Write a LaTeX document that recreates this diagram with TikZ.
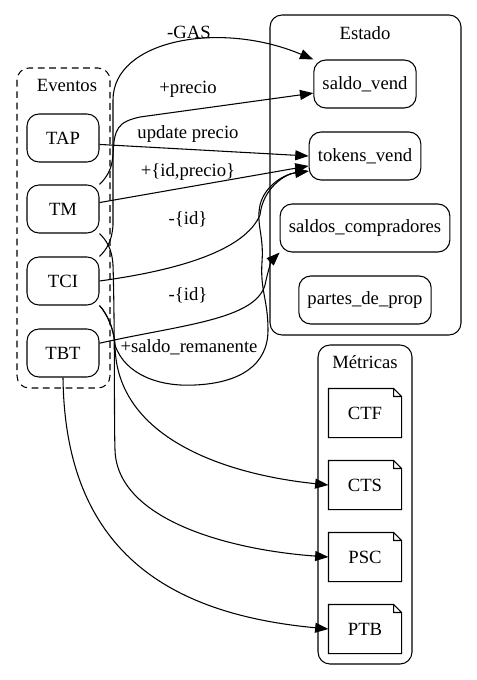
\documentclass[tikz,border=0pt]{standalone}
\usepackage{fontspec}
\setmainfont{Liberation Serif}
\usetikzlibrary{arrows.meta}

\begin{document}
\begin{tikzpicture}[x=0.75pt,y=-0.75pt,font=\fontsize{14}{16}\selectfont,line width=0.8pt,
  box/.style={draw,rounded corners=9pt,minimum width=54pt,minimum height=36pt,inner xsep=6.5pt},
  notebox/.style={minimum width=54pt,minimum height=36pt},
  grp/.style={draw,rounded corners=9pt},
  arr/.style={-{Triangle[length=10pt,width=7.5pt]}}]
  \useasboundingbox (0,0) rectangle (477,680);

  % clusters
  \draw[grp,dash pattern=on 5pt off 3.5pt] (17,68) rectangle (110,388);
  \draw[grp] (270,15) rectangle (461,335);
  \draw[grp] (318,345) rectangle (412,664);
  \node (evlbl) at (67,85) {Eventos};
  \node (stlbl) at (365,33) {Estado};
  \node (mtlbl) at (365,362) {Métricas};

  % events
  \node[box] (tap) at (63,138) {TAP};
  \node[box] (tm)  at (63,209) {TM};
  \node[box] (tci) at (63,281) {TCI};
  \node[box] (tbt) at (63,353) {TBT};

  % state
  \node[box] (saldovend)   at (365,84)  {saldo\_vend};
  \node[box] (tokensvend)  at (365,156) {tokens\_vend};
  \node[box] (saldoscomp)  at (365,228) {saldos\_compradores};
  \node[box] (partesprop)  at (365,300) {partes\_de\_prop};

  % metrics
  \node[notebox] (ctf) at (365,413) {CTF};
  \node[notebox] (cts) at (365,485) {CTS};
  \node[notebox] (psc) at (365,557) {PSC};
  \node[notebox] (ptb) at (365,629) {PTB};
  \foreach \n in {ctf,cts,psc,ptb}
    \draw (\n.south west) -- (\n.south east) -- ([yshift=-6pt]\n.north east)
      -- ([xshift=-6pt]\n.north east) -- (\n.north west) -- cycle
      ([xshift=-6pt]\n.north east) |- ([yshift=-6pt]\n.north east);

  % edges
  \draw[arr] (tci.north east) .. controls (106,250) and (112,242) .. (113,225) -- (113,100)
    .. controls (113,40) and (220,20) .. (saldovend.north west);
  \draw[arr] (tm.north east) .. controls (106,178) and (112,170) .. (113,155)
    .. controls (114,128) and (118,122) .. (140,117) -- (saldovend.190);
  \draw[arr] (tap.-10) -- (tokensvend.west);
  \draw[arr] (tm.10) -- (tokensvend.190);
  \draw[arr] (tci.east) .. controls (180,270) and (245,250) .. (260,215)
    .. controls (263,188) and (285,174) .. (tokensvend.195);
  \draw[arr] (tbt.15) .. controls (180,325) and (255,320) .. (265,285)
    .. controls (268,270) and (272,260) .. (saldoscomp.south west);
  \draw[arr] (tci.south east) .. controls (108,315) and (114,330) .. (115,345)
    .. controls (125,375) and (160,387) .. (195,385)
    .. controls (240,383) and (268,365) .. (268,330)
    .. controls (268,300) and (260,290) .. (262,262)
    .. controls (264,235) and (256,225) .. (260,205)
    .. controls (265,185) and (285,174) .. (tokensvend.195);
  \draw[arr] (tci.south east) .. controls (108,315) and (114,330) .. (115,345)
    .. controls (116,440) and (230,475) .. (cts.west);
  \draw[arr] (tm.south east) .. controls (106,240) and (112,248) .. (113,265)
    .. controls (115,330) and (114,420) .. (115,450)
    .. controls (117,520) and (230,550) .. (psc.west);
  \draw[arr] (tbt.south) .. controls (65,560) and (180,615) .. (ptb.west);

  % edge labels
  \node (lgas) at (189,32)  {-GAS};
  \node (lprc) at (188,89)  {+precio};
  \node (lupd) at (188,134) {update precio};
  \node (lidp) at (188,172) {+\{id,precio\}};
  \node (lid1) at (188,219) {-\{id\}};
  \node (lid2) at (188,295) {-\{id\}};
  \node (lrem) at (189,347) {+saldo\_remanente};
\end{tikzpicture}
\end{document}
